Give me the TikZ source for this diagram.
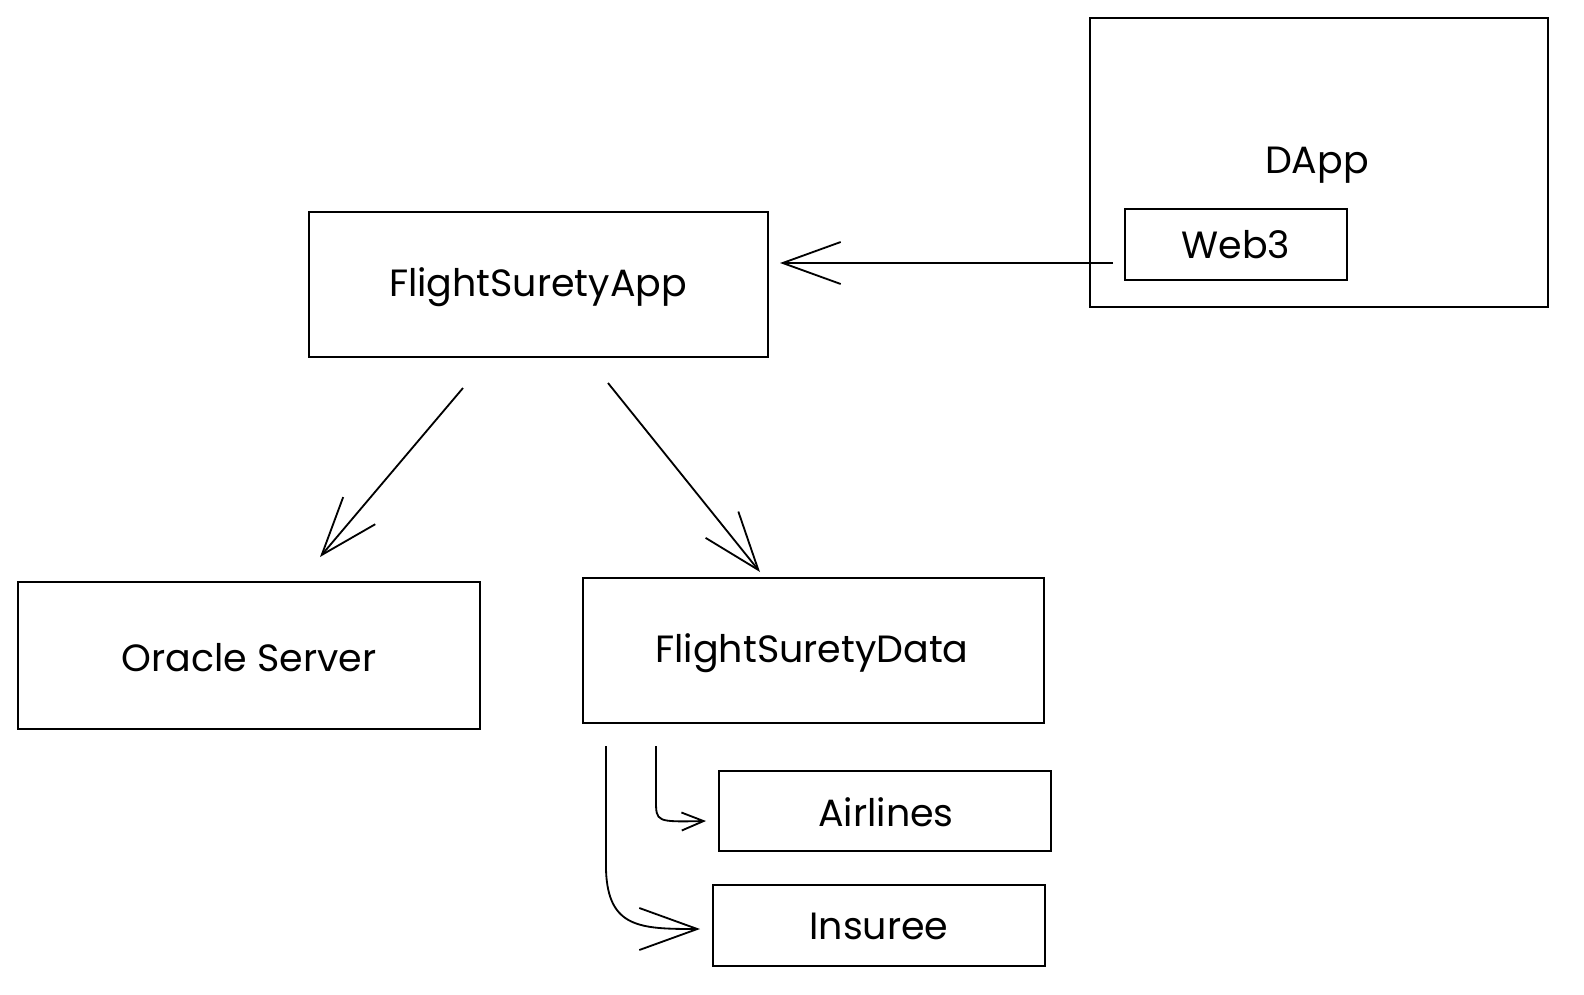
\documentclass[tikz,border=0pt]{standalone}
\usepackage{fontspec}
\setmainfont{Poppins}
\usetikzlibrary{arrows.meta}
\begin{document}
\begin{tikzpicture} [x = 0.025cm, y = -0.025cm,
        box/.style = {draw, line width=1.4pt, inner sep=0pt},
        lbl/.style = {font=\fontsize{27}{29}\selectfont},
        arr/.style = {line width=1.3pt, -{Straight Barb[length=1.45cm, width=1.05cm, line width=1.3pt]}},
        sarr/.style = {line width=1.3pt, -{Straight Barb[length=0.55cm, width=0.45cm, line width=1.3pt]}}]
        \useasboundingbox (0, 0) rectangle (1584, 994);
        \node[box, minimum width=11.45cm, minimum height=7.22cm] (dapp) at (1319, 162.5) {};
        \node[box, minimum width=5.55cm, minimum height=1.78cm] (web3) at (1236, 244.5) {};
        \node[box, minimum width=11.48cm, minimum height=3.62cm] (app) at (538.5, 284.5) {};
        \node[box, minimum width=11.55cm, minimum height=3.68cm] (oracle) at (249, 655.5) {};
        \node[box, minimum width=11.52cm, minimum height=3.62cm] (data) at (813.5, 650.5) {};
        \node[box, minimum width=8.3cm, minimum height=2cm] (airlines) at (885, 811) {};
        \node[box, minimum width=8.3cm, minimum height=2.02cm] (insuree) at (879, 925.5) {};
        \node[lbl] at (1317, 165) {DApp};
        \node[lbl] at (1236, 245) {Web3};
        \node[lbl] at (538, 287) {FlightSuretyApp};
        \node[lbl] at (249, 658) {Oracle Server};
        \node[lbl] at (812, 653) {FlightSuretyData};
        \node[lbl] at (886, 812) {Airlines};
        \node[lbl] at (879, 926) {Insuree};
        \coordinate (w) at (1113, 263);
        \coordinate (a) at (780, 263);
        \coordinate (a1) at (463, 388);
        \coordinate (o) at (320, 557);
        \coordinate (a2) at (608, 383);
        \coordinate (d) at (760, 572);
        \coordinate (d1) at (656, 746);
        \coordinate (l) at (706, 821);
        \coordinate (d2) at (606, 746);
        \coordinate (i) at (700, 929);
        \draw[arr] (w) -- (a);
        \draw[arr] (a1) -- (o);
        \draw[arr] (a2) -- (d);
        \draw[sarr] (d1) -- (d1 |- 0, 800) .. controls (d1 |- 0, 822) .. (l);
        \draw[arr] (d2) -- (d2 |- 0, 870) .. controls (608, 928) and (640, 929) .. (i);
    \end{tikzpicture}
\end{document}
